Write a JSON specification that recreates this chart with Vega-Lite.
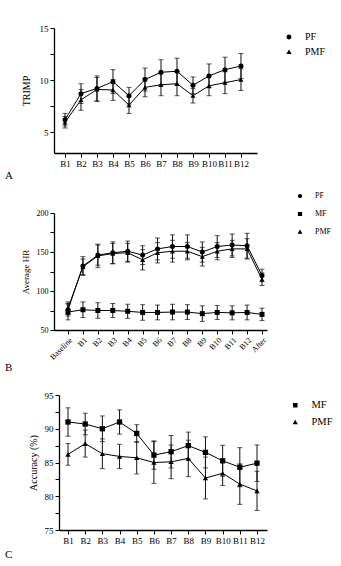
{
  "$schema": "https://vega.github.io/schema/vega-lite/v6.json",
  "background": "white",
  "padding": {"left": 5, "top": 24, "right": 0, "bottom": 0},
  "bounds": "flush",
  "spacing": 60,
  "resolve": {"scale": {"shape": "independent"}, "legend": {"shape": "independent"}},
  "config": {
    "font": "Liberation Serif",
    "view": {"stroke": null},
    "axis": {
      "labelFont": "Liberation Serif", "titleFont": "Liberation Serif",
      "labelColor": "black", "titleColor": "black", "domainColor": "black", "tickColor": "black",
      "grid": false, "titleFontWeight": "normal", "labelFontSize": 9, "titleFontSize": 10,
      "domainWidth": 1.3, "tickWidth": 1, "tickSize": 4, "labelPadding": 2
    },
    "legend": {
      "labelFont": "Liberation Serif", "labelColor": "black", "labelFontSize": 10,
      "symbolSize": 49, "labelOffset": 11, "rowPadding": 5, "orient": "none"
    },
    "title": {"font": "Liberation Serif", "fontWeight": "normal", "fontSize": 11, "color": "black"}
  },
  "datasets": {
    "trimp": [
      {"block": "B1", "group": "PF", "mean": 6.2, "sd": 0.6},
      {"block": "B2", "group": "PF", "mean": 8.7, "sd": 0.95},
      {"block": "B3", "group": "PF", "mean": 9.2, "sd": 1.2},
      {"block": "B4", "group": "PF", "mean": 9.85, "sd": 1.15},
      {"block": "B5", "group": "PF", "mean": 8.5, "sd": 0.8},
      {"block": "B6", "group": "PF", "mean": 10.05, "sd": 1.1},
      {"block": "B7", "group": "PF", "mean": 10.75, "sd": 1.2},
      {"block": "B8", "group": "PF", "mean": 10.85, "sd": 1.25},
      {"block": "B9", "group": "PF", "mean": 9.5, "sd": 0.8},
      {"block": "B10", "group": "PF", "mean": 10.4, "sd": 1.15},
      {"block": "B11", "group": "PF", "mean": 11.0, "sd": 1.2},
      {"block": "B12", "group": "PF", "mean": 11.35, "sd": 1.2},
      {"block": "B1", "group": "PMF", "mean": 5.95, "sd": 0.55},
      {"block": "B2", "group": "PMF", "mean": 8.1, "sd": 1.0},
      {"block": "B3", "group": "PMF", "mean": 9.1, "sd": 1.15},
      {"block": "B4", "group": "PMF", "mean": 9.05, "sd": 1.0},
      {"block": "B5", "group": "PMF", "mean": 7.6, "sd": 0.8},
      {"block": "B6", "group": "PMF", "mean": 9.3, "sd": 0.9},
      {"block": "B7", "group": "PMF", "mean": 9.55, "sd": 1.05},
      {"block": "B8", "group": "PMF", "mean": 9.65, "sd": 1.15},
      {"block": "B9", "group": "PMF", "mean": 8.5, "sd": 0.7},
      {"block": "B10", "group": "PMF", "mean": 9.45, "sd": 0.95},
      {"block": "B11", "group": "PMF", "mean": 9.75, "sd": 1.05},
      {"block": "B12", "group": "PMF", "mean": 10.05, "sd": 1.05}
    ],
    "hr": [
      {"block": "Baseline", "group": "PF", "mean": 76, "sd": 8},
      {"block": "B1", "group": "PF", "mean": 132, "sd": 12},
      {"block": "B2", "group": "PF", "mean": 146, "sd": 13},
      {"block": "B3", "group": "PF", "mean": 149, "sd": 14},
      {"block": "B4", "group": "PF", "mean": 151, "sd": 13},
      {"block": "B5", "group": "PF", "mean": 146, "sd": 12},
      {"block": "B6", "group": "PF", "mean": 154, "sd": 14},
      {"block": "B7", "group": "PF", "mean": 157, "sd": 15},
      {"block": "B8", "group": "PF", "mean": 157, "sd": 15},
      {"block": "B9", "group": "PF", "mean": 150, "sd": 13},
      {"block": "B10", "group": "PF", "mean": 157, "sd": 14},
      {"block": "B11", "group": "PF", "mean": 159, "sd": 14},
      {"block": "B12", "group": "PF", "mean": 158, "sd": 16},
      {"block": "After", "group": "PF", "mean": 120, "sd": 8},
      {"block": "Baseline", "group": "MF", "mean": 73, "sd": 10},
      {"block": "B1", "group": "MF", "mean": 76, "sd": 10},
      {"block": "B2", "group": "MF", "mean": 75, "sd": 10},
      {"block": "B3", "group": "MF", "mean": 75, "sd": 9},
      {"block": "B4", "group": "MF", "mean": 74, "sd": 9},
      {"block": "B5", "group": "MF", "mean": 72.5, "sd": 10},
      {"block": "B6", "group": "MF", "mean": 72.5, "sd": 9.5},
      {"block": "B7", "group": "MF", "mean": 73, "sd": 10},
      {"block": "B8", "group": "MF", "mean": 73, "sd": 9.5},
      {"block": "B9", "group": "MF", "mean": 71, "sd": 10},
      {"block": "B10", "group": "MF", "mean": 72.5, "sd": 9},
      {"block": "B11", "group": "MF", "mean": 72, "sd": 9},
      {"block": "B12", "group": "MF", "mean": 72.5, "sd": 9.5},
      {"block": "After", "group": "MF", "mean": 70, "sd": 8},
      {"block": "Baseline", "group": "PMF", "mean": 78, "sd": 8},
      {"block": "B1", "group": "PMF", "mean": 131, "sd": 10},
      {"block": "B2", "group": "PMF", "mean": 145, "sd": 15},
      {"block": "B3", "group": "PMF", "mean": 148, "sd": 13},
      {"block": "B4", "group": "PMF", "mean": 149, "sd": 12},
      {"block": "B5", "group": "PMF", "mean": 140, "sd": 13},
      {"block": "B6", "group": "PMF", "mean": 149, "sd": 13},
      {"block": "B7", "group": "PMF", "mean": 151, "sd": 14},
      {"block": "B8", "group": "PMF", "mean": 151, "sd": 11},
      {"block": "B9", "group": "PMF", "mean": 144, "sd": 12},
      {"block": "B10", "group": "PMF", "mean": 151, "sd": 11},
      {"block": "B11", "group": "PMF", "mean": 154, "sd": 11},
      {"block": "B12", "group": "PMF", "mean": 154, "sd": 13},
      {"block": "After", "group": "PMF", "mean": 115, "sd": 8}
    ],
    "acc": [
      {"block": "B1", "group": "MF", "mean": 91.0, "sd": 2.1},
      {"block": "B2", "group": "MF", "mean": 90.7, "sd": 1.6},
      {"block": "B3", "group": "MF", "mean": 90.0, "sd": 1.9},
      {"block": "B4", "group": "MF", "mean": 91.0, "sd": 1.8},
      {"block": "B5", "group": "MF", "mean": 89.3, "sd": 1.3},
      {"block": "B6", "group": "MF", "mean": 86.1, "sd": 2.1},
      {"block": "B7", "group": "MF", "mean": 86.6, "sd": 2.4},
      {"block": "B8", "group": "MF", "mean": 87.5, "sd": 2.0},
      {"block": "B9", "group": "MF", "mean": 86.5, "sd": 2.3},
      {"block": "B10", "group": "MF", "mean": 85.25, "sd": 2.3},
      {"block": "B11", "group": "MF", "mean": 84.3, "sd": 2.9},
      {"block": "B12", "group": "MF", "mean": 84.9, "sd": 2.7},
      {"block": "B1", "group": "PMF", "mean": 86.2, "sd": 1.6},
      {"block": "B2", "group": "PMF", "mean": 87.8, "sd": 2.0},
      {"block": "B3", "group": "PMF", "mean": 86.3, "sd": 2.2},
      {"block": "B4", "group": "PMF", "mean": 85.9, "sd": 1.8},
      {"block": "B5", "group": "PMF", "mean": 85.7, "sd": 2.4},
      {"block": "B6", "group": "PMF", "mean": 85.0, "sd": 3.1},
      {"block": "B7", "group": "PMF", "mean": 85.1, "sd": 2.5},
      {"block": "B8", "group": "PMF", "mean": 85.6, "sd": 2.7},
      {"block": "B9", "group": "PMF", "mean": 82.7, "sd": 3.1},
      {"block": "B10", "group": "PMF", "mean": 83.4, "sd": 1.8},
      {"block": "B11", "group": "PMF", "mean": 81.8, "sd": 3.0},
      {"block": "B12", "group": "PMF", "mean": 80.8, "sd": 2.9}
    ]
  },
  "vconcat": [
    {
      "width": 203, "height": 125,
      "title": {"text": "A", "orient": "bottom", "anchor": "start", "frame": "group", "dx": -49, "offset": 2},
      "data": {"name": "trimp"},
      "encoding": {
        "x": {"field": "block", "type": "ordinal",
          "scale": {"type": "point", "domain": ["B1","B2","B3","B4","B5","B6","B7","B8","B9","B10","B11","B12"], "padding": 0.844, "align": 0.407},
          "axis": {"title": null, "labelAngle": 0}},
        "y": {"field": "mean", "type": "quantitative", "title": "TRIMP",
          "scale": {"domain": [3, 15], "nice": false, "zero": false},
          "axis": {"values": [5, 7.5, 10, 12.5, 15], "labelExpr": "datum.value % 5 == 0 ? datum.label : ''", "titlePadding": 8}}
      },
      "layer": [
        {"mark": {"type": "errorbar", "ticks": {"size": 5}, "color": "#111", "thickness": 1},
         "encoding": {"yError": {"field": "sd"}, "detail": {"field": "group"}}},
        {"mark": {"type": "line", "color": "black", "strokeWidth": 1},
         "encoding": {"detail": {"field": "group"}}},
        {"transform": [{"filter": "datum.group == 'PF'"}],
         "mark": {"type": "point", "filled": true, "color": "black", "size": 25, "opacity": 1, "shape": "circle"}},
        {"transform": [{"filter": "datum.group == 'PMF'"}],
         "mark": {"type": "point", "filled": true, "color": "black", "size": 25, "opacity": 1, "shape": "triangle-up"}},
        {"mark": {"type": "point", "filled": false, "fill": "black", "stroke": "black", "strokeWidth": 1, "size": 49, "opacity": 0},
         "encoding": {"shape": {"field": "group", "title": null,
           "scale": {"domain": ["PF", "PMF"], "range": ["M-2,0H2M0.7,0A0.7,0.7,0,1,1,-0.7,0A0.7,0.7,0,1,1,0.7,0Z", "M-2,0H2M0,-0.75L0.75,0.55H-0.75Z"]},
           "legend": {"legendX": 230, "legendY": 4, "symbolStrokeColor": "black", "symbolFillColor": "black", "symbolStrokeWidth": 1, "encode": {"symbols": {"stroke": {"value": "black"}, "strokeWidth": {"value": 1}, "fill": {"value": "black"}, "strokeOpacity": {"value": 1}}}}}}}
      ]
    },
    {
      "width": 213, "height": 117,
      "title": {"text": "B", "orient": "bottom", "anchor": "start", "frame": "group", "dx": -49, "offset": 1},
      "data": {"name": "hr"},
      "encoding": {
        "x": {"field": "block", "type": "ordinal",
          "scale": {"type": "point", "domain": ["Baseline","B1","B2","B3","B4","B5","B6","B7","B8","B9","B10","B11","B12","After"], "padding": 0.637, "align": 0.737},
          "axis": {"title": null, "labelAngle": -45, "labelFontSize": 8}},
        "y": {"field": "mean", "type": "quantitative", "title": "Average HR",
          "scale": {"domain": [50, 200], "nice": false, "zero": false},
          "axis": {"values": [50, 75, 100, 125, 150, 175, 200], "labelExpr": "datum.value % 50 == 0 ? datum.label : ''", "labelFontSize": 8, "titleFontSize": 9, "titlePadding": 6}}
      },
      "layer": [
        {"mark": {"type": "errorbar", "ticks": {"size": 5}, "color": "#111", "thickness": 1},
         "encoding": {"yError": {"field": "sd"}, "detail": {"field": "group"}}},
        {"mark": {"type": "line", "color": "black", "strokeWidth": 1},
         "encoding": {"detail": {"field": "group"}}},
        {"transform": [{"filter": "datum.group == 'PF'"}],
         "mark": {"type": "point", "filled": true, "color": "black", "size": 25, "opacity": 1, "shape": "circle"}},
        {"transform": [{"filter": "datum.group == 'MF'"}],
         "mark": {"type": "point", "filled": true, "color": "black", "size": 25, "opacity": 1, "shape": "square"}},
        {"transform": [{"filter": "datum.group == 'PMF'"}],
         "mark": {"type": "point", "filled": true, "color": "black", "size": 25, "opacity": 1, "shape": "triangle-up"}},
        {"mark": {"type": "point", "filled": false, "fill": "black", "stroke": "black", "strokeWidth": 1, "size": 49, "opacity": 0},
         "encoding": {"shape": {"field": "group", "title": null,
           "scale": {"domain": ["PF", "MF", "PMF"], "range": ["M-2,0H2M0.6,0A0.6,0.6,0,1,1,-0.6,0A0.6,0.6,0,1,1,0.6,0Z", "M-2,0H2M-0.6,-0.6H0.6V0.6H-0.6Z", "M-2,0H2M0,-0.7L0.7,0.5H-0.7Z"]},
           "legend": {"legendX": 242, "legendY": -21, "labelFontSize": 8, "rowPadding": 8, "symbolStrokeColor": "black", "symbolFillColor": "black", "symbolStrokeWidth": 1, "encode": {"symbols": {"stroke": {"value": "black"}, "strokeWidth": {"value": 1}, "fill": {"value": "black"}, "strokeOpacity": {"value": 1}}}}}}}
      ]
    },
    {
      "width": 213, "height": 140,
      "title": {"text": "C", "orient": "bottom", "anchor": "start", "frame": "group", "dx": -49, "offset": 4},
      "data": {"name": "acc"},
      "encoding": {
        "x": {"field": "block", "type": "ordinal",
          "scale": {"type": "point", "domain": ["B1","B2","B3","B4","B5","B6","B7","B8","B9","B10","B11","B12"], "range": [5, 213], "padding": 0.553, "align": 0.474},
          "axis": {"title": null, "labelAngle": 0}},
        "y": {"field": "mean", "type": "quantitative", "title": "Accuracy (%)",
          "scale": {"domain": [75, 95], "nice": false, "zero": false, "range": [140, 5]},
          "axis": {"values": [75, 77.5, 80, 82.5, 85, 87.5, 90, 92.5, 95], "labelExpr": "datum.value % 5 == 0 ? datum.label : ''", "offset": -5, "titlePadding": 6}}
      },
      "layer": [
        {"mark": {"type": "errorbar", "ticks": {"size": 5}, "color": "#111", "thickness": 1},
         "encoding": {"yError": {"field": "sd"}, "detail": {"field": "group"}}},
        {"mark": {"type": "line", "color": "black", "strokeWidth": 1},
         "encoding": {"detail": {"field": "group"}}},
        {"transform": [{"filter": "datum.group == 'MF'"}],
         "mark": {"type": "point", "filled": true, "color": "black", "size": 28, "opacity": 1, "shape": "square"}},
        {"transform": [{"filter": "datum.group == 'PMF'"}],
         "mark": {"type": "point", "filled": true, "color": "black", "size": 28, "opacity": 1, "shape": "triangle-up"}},
        {"mark": {"type": "point", "filled": false, "fill": "black", "stroke": "black", "strokeWidth": 1, "size": 49, "opacity": 0},
         "encoding": {"shape": {"field": "group", "title": null,
           "scale": {"domain": ["MF", "PMF"], "range": ["M-2,0H2M-0.65,-0.65H0.65V0.65H-0.65Z", "M-2,0H2M0,-0.75L0.75,0.55H-0.75Z"]},
           "legend": {"legendX": 236, "legendY": 10, "labelFontSize": 10.5, "rowPadding": 6, "symbolStrokeColor": "black", "symbolFillColor": "black", "symbolStrokeWidth": 1, "encode": {"symbols": {"stroke": {"value": "black"}, "strokeWidth": {"value": 1}, "fill": {"value": "black"}, "strokeOpacity": {"value": 1}}}}}}}
      ]
    }
  ]
}
